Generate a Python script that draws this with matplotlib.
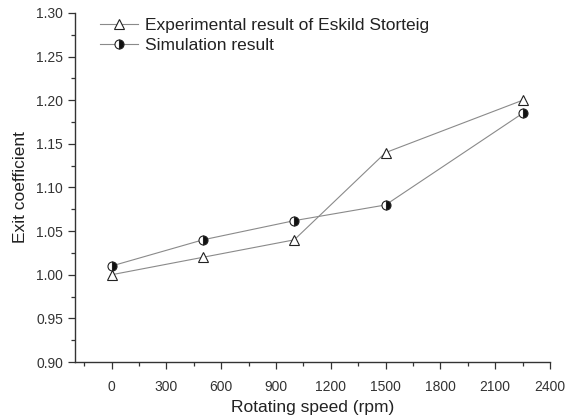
import matplotlib
matplotlib.use("Agg")
import matplotlib.pyplot as plt
from matplotlib.ticker import MultipleLocator

speed = [0, 500, 1000, 1500, 2250]
experimental = [1.00, 1.02, 1.04, 1.14, 1.20]
simulation = [1.01, 1.04, 1.062, 1.08, 1.185]
labels = ["Experimental result of Eskild Storteig", "Simulation result"]

plt.rcParams['font.family'] = ['Liberation Sans', 'DejaVu Sans']

fig = plt.figure(figsize=(5.67, 4.18), dpi=100)
ax = fig.add_axes([75/567, 56/418, (550-75)/567, (362-13)/418])

ax.plot(speed, experimental, color='#8a8a8a', lw=0.8, marker='^', ms=7,
        mfc='white', mec='#222222', mew=0.8, label=labels[0])
ax.plot(speed, simulation, color='#8a8a8a', lw=0.8, marker='o', ms=6.5,
        fillstyle='right', mfc='#111111', mfcalt='white', mec='#222222', mew=0.8,
        label=labels[1])

ax.set_xlim(-200, 2400)
ax.set_ylim(0.90, 1.30)
ax.xaxis.set_major_locator(MultipleLocator(300))
ax.xaxis.set_minor_locator(MultipleLocator(150))
ax.yaxis.set_major_locator(MultipleLocator(0.05))
ax.yaxis.set_minor_locator(MultipleLocator(0.025))
ax.set_xticks(range(0, 2401, 300))
ax.yaxis.set_major_formatter(matplotlib.ticker.FormatStrFormatter('%.2f'))

for s in ['top', 'right']:
    ax.spines[s].set_visible(False)
for s in ['left', 'bottom']:
    ax.spines[s].set_color('#333333')
    ax.spines[s].set_linewidth(1.0)

ax.tick_params(which='major', direction='out', length=5, width=0.9, colors='#333333',
               labelsize=10, labelcolor='#333333')
ax.tick_params(which='minor', direction='out', length=3, width=0.9, colors='#333333')
ax.tick_params(axis='x', pad=8)

ax.set_xlabel('Rotating speed (rpm)', fontsize=12.5, color='#222222', labelpad=4.5)
ax.set_ylabel('Exit coefficient', fontsize=12.5, color='#222222', labelpad=6)

leg = ax.legend(loc='upper left', bbox_to_anchor=(0.03, 1.015), frameon=False,
                fontsize=12.5, handlelength=2.2, handletextpad=0.4, labelspacing=0.25,
                borderaxespad=0.2)
for t in leg.get_texts():
    t.set_color('#222222')

fig.savefig('out.png', dpi=100)
